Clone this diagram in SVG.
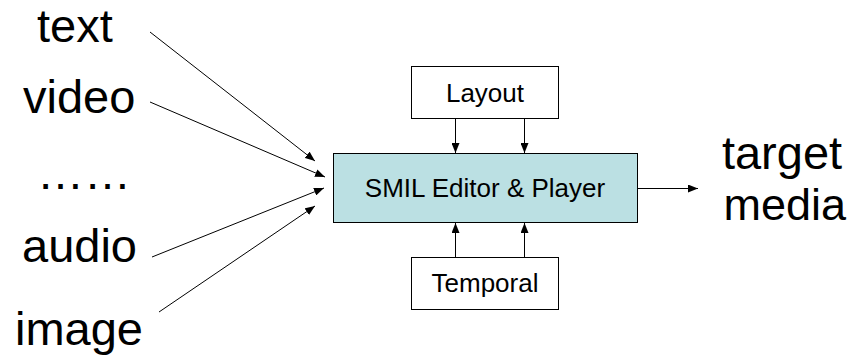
<svg xmlns="http://www.w3.org/2000/svg" width="851" height="358" viewBox="0 0 851 358">
<defs>
<marker id="ah" viewBox="0 0 10 8" refX="10" refY="4" markerWidth="10" markerHeight="8" markerUnits="userSpaceOnUse" orient="auto">
<path d="M0,0 L10,4 L0,8 Z" fill="#000"/>
</marker>
</defs>
<style>
.big{font-family:"Liberation Sans",Arial,sans-serif;font-size:47px;fill:#000}
.lbl{font-family:"Liberation Sans",Arial,sans-serif;font-size:26px;fill:#000;text-anchor:middle}
.box{fill:#fff;stroke:#000;stroke-width:1}
.main{fill:#BBE0E3;stroke:#000;stroke-width:1}
.c{stroke:#000;stroke-width:1;fill:none;marker-end:url(#ah)}
</style>
<rect width="851" height="358" fill="#fff"/>
<g id="text"><text class="big" x="37" y="42">text</text></g>
<g id="video"><text class="big" x="23" y="113">video</text></g>
<g id="dots"><text class="big" x="37" y="189">……</text></g>
<g id="audio"><text class="big" x="22" y="262">audio</text></g>
<g id="image"><text class="big" x="15" y="345">image</text></g>
<g id="target"><text class="big" x="782" y="169" text-anchor="middle">target</text><text class="big" x="846" y="220" text-anchor="end" style="font-size:45px">media</text></g>
<g id="layout"><rect class="box" x="411.5" y="66.5" width="147" height="52"/><text class="lbl" x="485" y="102">Layout</text></g>
<g id="editor"><rect class="main" x="333.5" y="153.5" width="304" height="69"/><text class="lbl" x="485" y="197">SMIL Editor &amp; Player</text></g>
<g id="temporal"><rect class="box" x="411.5" y="257.5" width="147" height="52"/><text class="lbl" x="485" y="292">Temporal</text></g>
<g id="connectors">
<line class="c" x1="150" y1="32" x2="315" y2="161"/>
<line class="c" x1="150" y1="102" x2="325" y2="177"/>
<line class="c" x1="152" y1="257" x2="324" y2="188"/>
<line class="c" x1="159" y1="312" x2="315" y2="206"/>
<line class="c" x1="455.5" y1="119" x2="455.5" y2="153"/>
<line class="c" x1="524.5" y1="119" x2="524.5" y2="153"/>
<line class="c" x1="455.5" y1="257" x2="455.5" y2="223"/>
<line class="c" x1="524.5" y1="257" x2="524.5" y2="223"/>
<line class="c" x1="638" y1="188.5" x2="698" y2="188.5"/>
</g>
</svg>
